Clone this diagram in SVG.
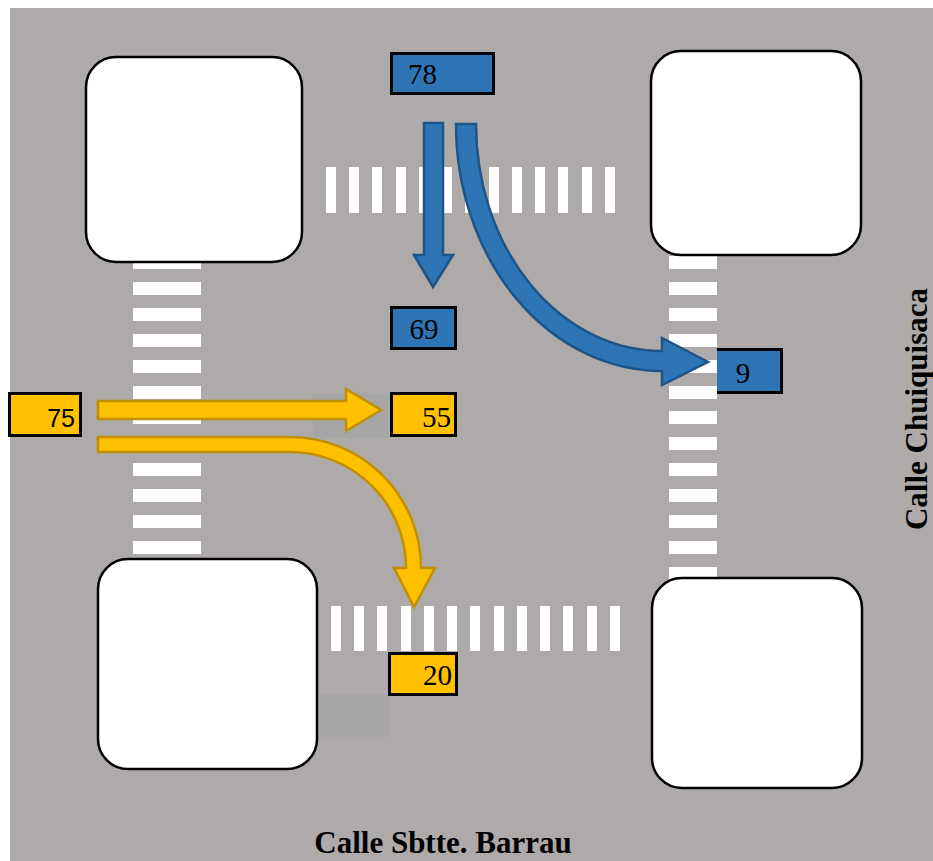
<svg xmlns="http://www.w3.org/2000/svg" width="933" height="861" viewBox="0 0 933 861">
<style>
.stripe{fill:#FFFFFF}
.block{fill:#FFFFFF;stroke:#000000;stroke-width:2.5}
.lblB{fill:#2E75B6;stroke:#000000;stroke-width:3}
.lblY{fill:#FFC000;stroke:#000000;stroke-width:3}
.num{font-family:"Liberation Serif","Times New Roman",serif;font-size:29px;fill:#000000}
.numS{font-family:"Liberation Sans",Arial,sans-serif;font-size:25px;fill:#000000}
.street{font-family:"Liberation Serif","Times New Roman",serif;font-size:31px;font-weight:bold;fill:#000000}
.arrB{fill:#2E75B6;stroke:#1F5487;stroke-width:2.5;stroke-linejoin:miter}
.arrY{fill:#FFC000;stroke:#C09000;stroke-width:2.5;stroke-linejoin:miter}
</style>
<rect x="0" y="0" width="933" height="861" fill="#FFFFFF"/>
<rect x="10" y="8" width="923" height="853" fill="#AEAAAA"/>
<rect x="313" y="394" width="76" height="44" fill="#A6A6A6"/>
<rect x="320" y="694" width="70" height="43" fill="#A6A6A6"/>

<g id="crosswalk-top">
<rect class="stripe" x="326" y="167" width="10" height="46"/>
<rect class="stripe" x="349" y="167" width="10" height="46"/>
<rect class="stripe" x="372" y="167" width="10" height="46"/>
<rect class="stripe" x="396" y="167" width="10" height="46"/>
<rect class="stripe" x="419" y="167" width="10" height="46"/>
<rect class="stripe" x="442" y="167" width="10" height="46"/>
<rect class="stripe" x="465" y="167" width="10" height="46"/>
<rect class="stripe" x="489" y="167" width="10" height="46"/>
<rect class="stripe" x="512" y="167" width="10" height="46"/>
<rect class="stripe" x="535" y="167" width="10" height="46"/>
<rect class="stripe" x="558" y="167" width="10" height="46"/>
<rect class="stripe" x="582" y="167" width="10" height="46"/>
<rect class="stripe" x="605" y="167" width="10" height="46"/>
</g>
<g id="crosswalk-bottom">
<rect class="stripe" x="331" y="606" width="10" height="45"/>
<rect class="stripe" x="354" y="606" width="10" height="45"/>
<rect class="stripe" x="377" y="606" width="10" height="45"/>
<rect class="stripe" x="401" y="606" width="10" height="45"/>
<rect class="stripe" x="424" y="606" width="10" height="45"/>
<rect class="stripe" x="447" y="606" width="10" height="45"/>
<rect class="stripe" x="470" y="606" width="10" height="45"/>
<rect class="stripe" x="494" y="606" width="10" height="45"/>
<rect class="stripe" x="517" y="606" width="10" height="45"/>
<rect class="stripe" x="540" y="606" width="10" height="45"/>
<rect class="stripe" x="563" y="606" width="10" height="45"/>
<rect class="stripe" x="587" y="606" width="10" height="45"/>
<rect class="stripe" x="610" y="606" width="10" height="45"/>
</g>
<g id="crosswalk-left">
<rect class="stripe" x="133" y="256" width="68" height="13"/>
<rect class="stripe" x="133" y="282" width="68" height="13"/>
<rect class="stripe" x="133" y="308" width="68" height="13"/>
<rect class="stripe" x="133" y="334" width="68" height="13"/>
<rect class="stripe" x="133" y="360" width="68" height="13"/>
<rect class="stripe" x="133" y="386" width="68" height="13"/>
<rect class="stripe" x="133" y="411" width="68" height="13"/>
<rect class="stripe" x="133" y="437" width="68" height="13"/>
<rect class="stripe" x="133" y="463" width="68" height="13"/>
<rect class="stripe" x="133" y="489" width="68" height="13"/>
<rect class="stripe" x="133" y="515" width="68" height="13"/>
<rect class="stripe" x="133" y="541" width="68" height="13"/>
</g>
<g id="crosswalk-right">
<rect class="stripe" x="669" y="256" width="48" height="13"/>
<rect class="stripe" x="669" y="282" width="48" height="13"/>
<rect class="stripe" x="669" y="308" width="48" height="13"/>
<rect class="stripe" x="669" y="334" width="48" height="13"/>
<rect class="stripe" x="669" y="360" width="48" height="13"/>
<rect class="stripe" x="669" y="386" width="48" height="13"/>
<rect class="stripe" x="669" y="411" width="48" height="13"/>
<rect class="stripe" x="669" y="437" width="48" height="13"/>
<rect class="stripe" x="669" y="463" width="48" height="13"/>
<rect class="stripe" x="669" y="489" width="48" height="13"/>
<rect class="stripe" x="669" y="515" width="48" height="13"/>
<rect class="stripe" x="669" y="541" width="48" height="13"/>
<rect class="stripe" x="669" y="567" width="48" height="13"/>
</g>

<g id="block-tl"><rect class="block" x="86" y="57" width="216" height="205" rx="30"/></g>
<g id="block-tr"><rect class="block" x="651" y="51" width="210" height="204" rx="30"/></g>
<g id="block-bl"><rect class="block" x="98" y="559" width="219" height="210" rx="30"/></g>
<g id="block-br"><rect class="block" x="652" y="578" width="210" height="210" rx="30"/></g>

<g id="connectors">
<path class="arrB" d="M424,123 H443 V255 H453 L433,287 L414,255 H424 Z"/>
<path class="arrB" d="M456,124 H476 A186,227 0 0 0 662,351 V338 L708,362 L662,385 V371 A206,247 0 0 1 456,124 Z"/>
<path class="arrY" d="M98,401 H346 V389 L381,410 L346,431 V419 H98 Z"/>
<path class="arrY" d="M98,437 H290 A131,131 0 0 1 421,568 H435 L414,607 L394,568 H406 A116,116 0 0 0 290,452 H98 Z"/>
</g>

<g id="label-78"><rect class="lblB" x="391.5" y="53.5" width="102" height="40"/><text class="num" x="408" y="84">78</text></g>
<g id="label-69"><rect class="lblB" x="391.5" y="307.5" width="64" height="41"/><text class="num" x="424" y="339" text-anchor="middle">69</text></g>
<g id="label-9"><rect x="717" y="348" width="66" height="46" fill="#2E75B6"/><path d="M717,349.5 H781.5 V392.5 H717" fill="none" stroke="#000000" stroke-width="3"/><text class="num" x="743" y="383" text-anchor="middle">9</text></g>
<g id="label-55"><rect class="lblY" x="391.5" y="393.5" width="64" height="42"/><text class="num" x="451" y="427" text-anchor="end">55</text></g>
<g id="label-75"><rect class="lblY" x="9.5" y="393.5" width="71" height="42"/><text class="numS" x="75" y="427" text-anchor="end">75</text></g>
<g id="label-20"><rect class="lblY" x="389.5" y="653.5" width="67" height="41"/><text class="num" x="452" y="685" text-anchor="end">20</text></g>

<text class="street" x="443" y="853" text-anchor="middle">Calle Sbtte. Barrau</text>
<text class="street" transform="translate(927,409) rotate(-90)" text-anchor="middle">Calle Chuiquisaca</text>
</svg>
